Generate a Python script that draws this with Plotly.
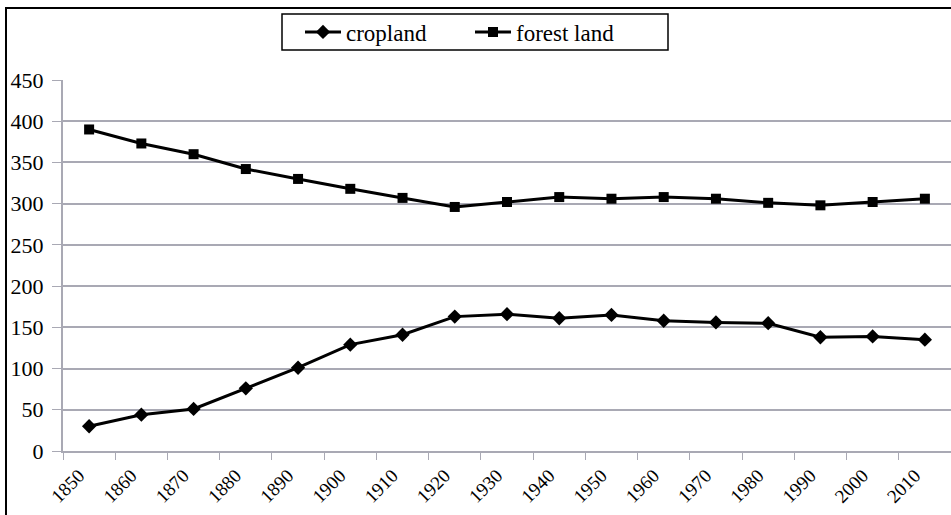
import plotly.graph_objects as go

years = ["1850", "1860", "1870", "1880", "1890", "1900", "1910", "1920", "1930",
         "1940", "1950", "1960", "1970", "1980", "1990", "2000", "2010"]
cropland = [30, 44, 51, 76, 101, 129, 141, 163, 166, 161, 165, 158, 156, 155, 138, 139, 135]
forest_land = [390, 373, 360, 342, 330, 318, 307, 296, 302, 308, 306, 308, 306, 301, 298, 302, 306]

FONT = "Liberation Serif"
GRID = "#a9a9b4"

fig = go.Figure()
fig.add_trace(go.Scatter(x=years, y=cropland, name="cropland", mode="lines+markers",
                         line=dict(color="black", width=3),
                         marker=dict(symbol="diamond", size=11, color="black")))
fig.add_trace(go.Scatter(x=years, y=forest_land, name="forest land", mode="lines+markers",
                         line=dict(color="black", width=3),
                         marker=dict(symbol="square", size=10, color="black")))

fig.update_layout(
    width=951, height=515,
    margin=dict(l=63, r=0, t=80, b=64),
    paper_bgcolor="white", plot_bgcolor="white",
    font=dict(family=FONT, size=20, color="black"),
    showlegend=True,
    legend=dict(orientation="h", x=(300 - 63) / 888, xanchor="left",
                y=(451 - 32) / 371, yanchor="middle",
                borderwidth=0, bgcolor="rgba(0,0,0,0)",
                font=dict(family=FONT, size=23), itemwidth=36,
                entrywidth=119, tracegroupgap=0),
    xaxis=dict(type="category", range=[-0.5, 16.5], tickson="boundaries",
               ticks="outside", ticklen=7, tickcolor=GRID, tickwidth=1,
               showline=True, linecolor=GRID, linewidth=2, showgrid=False,
               tickangle=-45, ticklabelshift=-10, ticklabelstandoff=4,
               automargin=False, tickfont=dict(family=FONT, size=19)),
    yaxis=dict(range=[0, 450], dtick=50, tick0=0, ticks="outside", ticklen=9,
               tickcolor=GRID, showline=True, linecolor=GRID, linewidth=2,
               gridcolor=GRID, gridwidth=1.5, zeroline=False, automargin=False,
               ticklabelstandoff=4, tickfont=dict(family=FONT, size=22)),
    shapes=[dict(type="rect", xref="paper", yref="paper",
                 x0=(6 - 63) / 888, x1=1.05, y0=-0.3, y1=(451 - 8) / 371,
                 line=dict(color="black", width=2), layer="above"),
            dict(type="rect", xref="paper", yref="paper",
                 x0=(282 - 63) / 888, x1=(668 - 63) / 888,
                 y0=(451 - 50) / 371, y1=(451 - 14) / 371,
                 line=dict(color="black", width=1.5), layer="above")],
)

fig.write_html("out.html", config={"displayModeBar": False},
               post_script="document.body.style.margin='0';")
